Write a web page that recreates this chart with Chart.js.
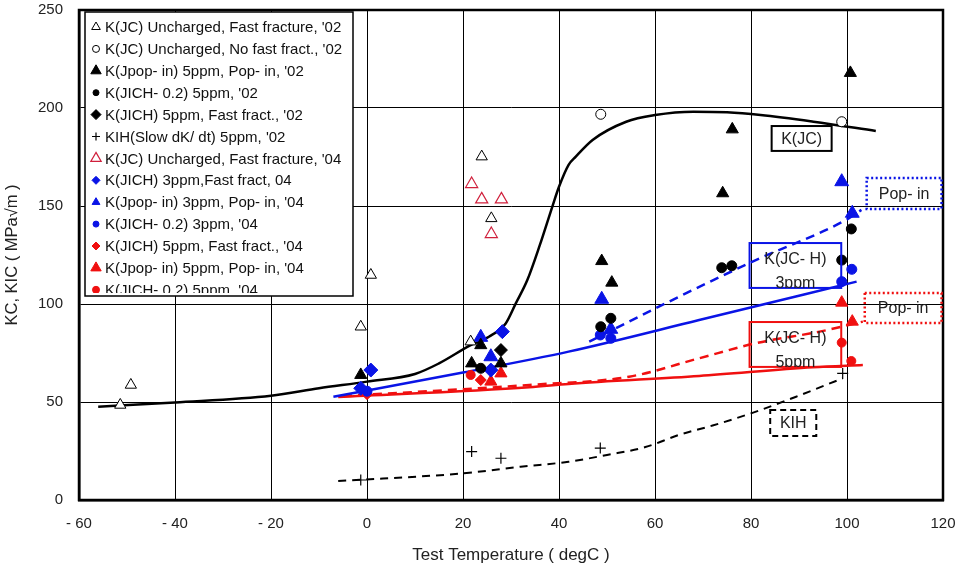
<!DOCTYPE html>
<html>
<head>
<meta charset="utf-8">
<script src="https://cdn.jsdelivr.net/npm/chart.js@4.4.0/dist/chart.umd.min.js"></script>
<style>
  html, body { margin: 0; padding: 0; background: #fff; }
</style>
</head>
<body>
<canvas id="chart" width="961" height="571"></canvas>
<script>
// ---- data (temperature degC, K in MPa√m) ----
const xTicks = [-60, -40, -20, 0, 20, 40, 60, 80, 100, 120];
const yTicks = [0, 50, 100, 150, 200, 250];

// fitted curves
const kjcT = [-56, -40, -20, -10, 0, 10, 15, 21.6, 25.4, 28.9, 31, 33.4, 36, 38.6, 40, 42, 43.5, 47, 54, 60, 68, 75, 82, 93, 106];
const kjcK = [47.6, 49.8, 53.2, 57, 60.4, 64.3, 69.7, 79, 83.3, 90.1, 100.3, 112.2, 130, 149.6, 159.8, 171, 175.2, 183.7, 193, 196.4, 198.1, 197.8, 196.4, 193, 188.3];
const kjch3T = [-7, 20, 42, 69.2, 102];
const kjch3K = [52.7, 65, 75.7, 91.8, 111.4];
const pop3T = [46.3, 65, 81, 99.8, 103];
const pop3K = [80.8, 103.7, 122.4, 142.9, 148];
const kjch5T = [-6, 33.8, 42, 69.2, 92.9, 103.3];
const kjch5K = [52.5, 57.5, 59.2, 63.3, 67.7, 68.9];
const pop5T = [-5, 33.8, 54.6, 69.2, 81, 94.3, 103.3];
const pop5K = [53, 58.7, 62.9, 72.3, 80, 85.9, 91];
const kihT = [-6, 20, 32, 42, 50, 58, 65, 72, 80, 89.4, 99.1];
const kihK = [9.7, 13.6, 17, 19.5, 23, 27, 33.2, 38, 44.2, 52.7, 62.1];

// measured points
const openTri02T = [-51.4, -49.2, -1.3, 0.8, 21.6, 23.9, 25.9];
const openTri02K = [48.5, 58.7, 88.4, 114.8, 80.8, 175.2, 143.7];
const openCirc02T = [48.7, 98.9];
const openCirc02K = [196.8, 193];
const pop5ppm02T = [-1.3, 21.8, 23.7, 27.9, 48.9, 51, 74.1, 76.1, 100.7];
const pop5ppm02K = [63.8, 69.7, 79, 69.7, 121.9, 110.9, 156.5, 189.1, 217.9];
const jich02_5T = [23.7, 48.7, 50.8, 73.9, 76, 98.9, 100.9];
const jich02_5K = [67.2, 88.4, 92.7, 118.5, 119.5, 122.4, 138.3];
const jichFast02T = [27.9];
const jichFast02K = [76.5];
const kih02T = [-1.3, 21.8, 27.9, 48.6, 99.1];
const kih02K = [10.2, 24.7, 21.3, 26.5, 64.6];
const openTri04T = [21.8, 23.9, 28, 25.9];
const openTri04K = [161.2, 153.4, 153.4, 135.7];
const jichFast3T = [-1.3, 0.8, 25.8, 28.2];
const jichFast3K = [57, 66.3, 66.3, 85.9];
const pop3ppm04T = [23.7, 25.8, 48.9, 50.8, 98.9, 101.1];
const pop3ppm04K = [83, 73.1, 102.4, 87.1, 162.4, 146.3];
const jich02_3T = [0, 48.6, 50.8, 98.9, 101];
const jich02_3K = [55.5, 84.2, 82.5, 111.4, 117.7];
const jichFast5T = [0, 23.7];
const jichFast5K = [54, 61.2];
const pop5ppm04T = [25.8, 27.9, 98.9, 101.1];
const pop5ppm04K = [60.4, 64.6, 100.7, 91];
const jich02_5b04T = [21.6, 98.9, 100.9];
const jich02_5b04K = [63.8, 80.3, 70.9];

const BLACK = '#000000', BLUE = '#0a14e6', RED = '#f01010', CRIMSON = '#d0203c';
const FONT = "'Liberation Sans', Arial, sans-serif";

const pts = (xs, ys) => xs.map((x, i) => ({ x: x, y: ys[i] }));

// point series: label, data, style
const pointSeries = [
  { label: "K(JC) Uncharged, Fast fracture, '02", data: pts(openTri02T, openTri02K), shape: 'triangle', color: BLACK, fill: '#fff', r: 6.5, bw: 1, lr: 5 },
  { label: "K(JC) Uncharged, No fast fract., '02", data: pts(openCirc02T, openCirc02K), shape: 'circle', color: BLACK, fill: '#fff', r: 5, bw: 1, lr: 3.5 },
  { label: "K(Jpop- in) 5ppm, Pop- in, '02", data: pts(pop5ppm02T, pop5ppm02K), shape: 'triangle', color: BLACK, fill: BLACK, r: 7, bw: 1, lr: 6 },
  { label: "K(JICH- 0.2) 5ppm, '02", data: pts(jich02_5T, jich02_5K), shape: 'circle', color: BLACK, fill: BLACK, r: 5, bw: 1, lr: 3 },
  { label: "K(JICH) 5ppm, Fast fract., '02", data: pts(jichFast02T, jichFast02K), shape: 'rectRot', color: BLACK, fill: BLACK, r: 6.5, bw: 1, lr: 5 },
  { label: "KIH(Slow dK/ dt) 5ppm, '02", data: pts(kih02T, kih02K), shape: 'cross', color: BLACK, fill: BLACK, r: 5.5, bw: 1.2, lr: 4 },
  { label: "K(JC) Uncharged, Fast fracture, '04", data: pts(openTri04T, openTri04K), shape: 'triangle', color: CRIMSON, fill: '#fff', r: 7, bw: 1.2, lr: 6 },
  { label: "K(JICH) 3ppm,Fast fract, 04", data: pts(jichFast3T, jichFast3K), shape: 'rectRot', color: BLUE, fill: BLUE, r: 7, bw: 1, lr: 4 },
  { label: "K(Jpop- in) 3ppm, Pop- in, '04", data: pts(pop3ppm04T, pop3ppm04K), shape: 'triangle', color: BLUE, fill: BLUE, r: 8, bw: 1, lr: 4.5 },
  { label: "K(JICH- 0.2) 3ppm, '04", data: pts(jich02_3T, jich02_3K), shape: 'circle', color: BLUE, fill: BLUE, r: 5, bw: 1, lr: 3 },
  { label: "K(JICH) 5ppm, Fast fract., '04", data: pts(jichFast5T, jichFast5K), shape: 'rectRot', color: RED, fill: RED, r: 5.5, bw: 1, lr: 4 },
  { label: "K(Jpop- in) 5ppm, Pop- in, '04", data: pts(pop5ppm04T, pop5ppm04K), shape: 'triangle', color: RED, fill: RED, r: 7, bw: 1, lr: 6 },
  { label: "K(JICH- 0.2) 5ppm, '04", data: pts(jich02_5b04T, jich02_5b04K), shape: 'circle', color: RED, fill: RED, r: 4.5, bw: 1, lr: 3.5 }
];

const lineSeries = [
  { data: pts(kjcT, kjcK), color: BLACK, width: 2.5, dash: [] },
  { data: pts(kjch3T, kjch3K), color: BLUE, width: 2.5, dash: [] },
  { data: pts(pop3T, pop3K), color: BLUE, width: 2.5, dash: [9, 6] },
  { data: pts(kjch5T, kjch5K), color: RED, width: 2.5, dash: [] },
  { data: pts(pop5T, pop5K), color: RED, width: 2.5, dash: [9, 6] },
  { data: pts(kihT, kihK), color: BLACK, width: 2, dash: [8, 6] }
];

// text boxes, corners in data units
const notes = [
  { x0: 84.3, x1: 96.8, y0: 190.8, y1: 178.1, lines: ['K(JC)'], color: BLACK, dash: [], lw: 2 },
  { x0: 79.7, x1: 98.8, y0: 131.1, y1: 108.2, lines: ['K(JC- H)', '3ppm'], color: BLUE, dash: [], lw: 2 },
  { x0: 79.7, x1: 98.8, y0: 90.8, y1: 67.9, lines: ['K(JC- H)', '5ppm'], color: RED, dash: [], lw: 2 },
  { x0: 104.1, x1: 119.7, y0: 164.3, y1: 148.5, lines: ['Pop- in'], color: BLUE, dash: [2, 2.5], lw: 2.5 },
  { x0: 103.7, x1: 119.7, y0: 105.6, y1: 90.3, lines: ['Pop- in'], color: RED, dash: [2, 2.5], lw: 2.5 },
  { x0: 84.0, x1: 93.6, y0: 45.9, y1: 32.7, lines: ['KIH'], color: BLACK, dash: [6, 4], lw: 2 }
];

const datasets = [];
pointSeries.forEach(s => datasets.push({
  type: 'scatter', label: s.label, data: s.data, order: 0,
  pointStyle: s.shape, pointRadius: s.r, pointHoverRadius: s.r,
  pointBackgroundColor: s.fill, pointBorderColor: s.color, pointBorderWidth: s.bw
}));
lineSeries.forEach(s => datasets.push({
  type: 'line', data: s.data, order: 5, showLine: true,
  borderColor: s.color, borderWidth: s.width, borderDash: s.dash,
  pointRadius: 0, cubicInterpolationMode: 'monotone', fill: false
}));

const framePlugin = {
  id: 'frame',
  beforeDatasetsDraw(chart) {
    const a = chart.chartArea, ctx = chart.ctx;
    ctx.save();
    ctx.strokeStyle = '#000';
    ctx.lineWidth = 2.5;
    ctx.strokeRect(a.left, a.top, a.right - a.left, a.bottom - a.top);
    ctx.restore();
  }
};

const notesPlugin = {
  id: 'notes',
  afterDatasetsDraw(chart) {
    const ctx = chart.ctx, sx = chart.scales.x, sy = chart.scales.y;
    notes.forEach(n => {
      const l = sx.getPixelForValue(n.x0), r = sx.getPixelForValue(n.x1);
      const t = sy.getPixelForValue(n.y0), b = sy.getPixelForValue(n.y1);
      ctx.save();
      ctx.strokeStyle = n.color;
      ctx.lineWidth = n.lw;
      ctx.setLineDash(n.dash);
      ctx.strokeRect(l, t, r - l, b - t);
      ctx.beginPath();
      ctx.rect(l, t, r - l, b - t);
      ctx.clip();
      ctx.fillStyle = '#222';
      ctx.font = '16px ' + FONT;
      ctx.textAlign = 'center';
      ctx.textBaseline = 'middle';
      const cx = (l + r) / 2;
      if (n.lines.length === 1) {
        ctx.fillText(n.lines[0], cx, (t + b) / 2 + 1);
      } else {
        ctx.fillText(n.lines[0], cx, t + 17);
        ctx.fillText(n.lines[1], cx, t + 41);
      }
      ctx.restore();
    });
  }
};

const legendPlugin = {
  id: 'boxLegend',
  afterDraw(chart) {
    const ctx = chart.ctx, a = chart.chartArea;
    const bx = a.left + 6, by = a.top + 2, bw = 268, bh = 284;
    ctx.save();
    ctx.fillStyle = '#fff';
    ctx.fillRect(bx, by, bw, bh);
    ctx.strokeStyle = '#000';
    ctx.lineWidth = 1.5;
    ctx.strokeRect(bx, by, bw, bh);
    ctx.beginPath();
    ctx.rect(bx, by, bw, bh - 3);
    ctx.clip();
    ctx.font = '15px ' + FONT;
    ctx.textBaseline = 'middle';
    ctx.textAlign = 'left';
    pointSeries.forEach((s, i) => {
      const y = by + 16 + i * 21.9;
      ctx.fillStyle = s.fill;
      ctx.strokeStyle = s.color;
      ctx.lineWidth = s.bw;
      Chart.helpers.drawPoint(ctx, { pointStyle: s.shape, radius: s.lr, borderWidth: s.bw, rotation: 0 }, bx + 11, y - 1);
      ctx.fillStyle = '#111';
      ctx.fillText(s.label, bx + 20, y);
    });
    ctx.restore();
  }
};

new Chart(document.getElementById('chart'), {
  type: 'scatter',
  data: { datasets: datasets },
  plugins: [framePlugin, notesPlugin, legendPlugin],
  options: {
    responsive: false,
    animation: false,
    layout: { padding: { top: 10, right: 18, left: 0, bottom: 0 } },
    plugins: { legend: { display: false }, tooltip: { enabled: false } },
    scales: {
      x: {
        type: 'linear', min: -60, max: 120,
        afterBuildTicks: s => { s.ticks = xTicks.map(v => ({ value: v })); },
        afterFit: s => { s.height = 71; s.paddingLeft = 0; s.paddingRight = 0; },
        grid: { color: '#000', lineWidth: 1, drawTicks: false },
        border: { color: '#000', width: 2.5 },
        ticks: {
          padding: 15, color: '#222', font: { family: FONT, size: 15 },
          callback: v => v < 0 ? '- ' + Math.abs(v) : String(v)
        },
        title: { display: true, text: 'Test Temperature ( degC )', color: '#222',
                 font: { family: FONT, size: 17 }, padding: { top: 0, bottom: 5 } }
      },
      y: {
        type: 'linear', min: 0, max: 250,
        afterBuildTicks: s => { s.ticks = yTicks.map(v => ({ value: v })); },
        afterFit: s => { s.width = 79; s.paddingTop = 0; s.paddingBottom = 0; },
        grid: { color: '#000', lineWidth: 1, drawTicks: false },
        border: { color: '#000', width: 2.5 },
        ticks: { padding: 16, color: '#222', font: { family: FONT, size: 15 } },
        title: { display: true, text: 'KC, KIC ( MPa√m )', color: '#222',
                 font: { family: FONT, size: 16.5 }, padding: { top: 3, bottom: 0 } }
      }
    }
  }
});
</script>
</body>
</html>
